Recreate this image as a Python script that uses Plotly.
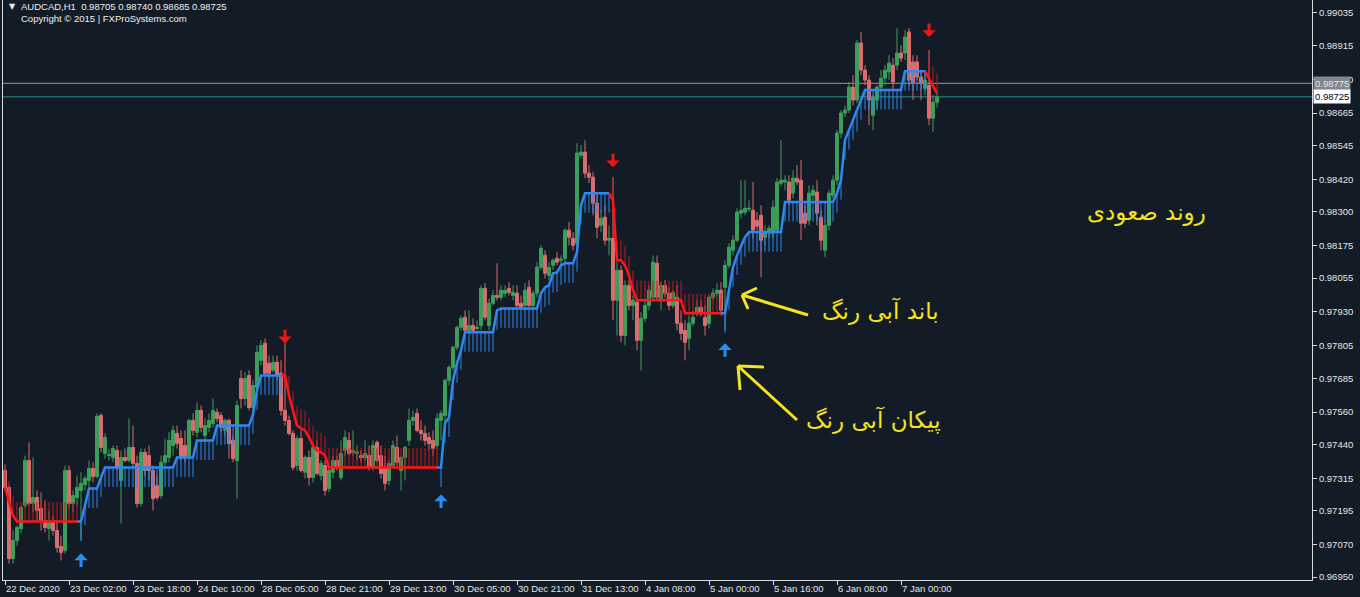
import plotly.graph_objects as go

# ---------------- data ----------------
symbol_line = "AUDCAD,H1  0.98705 0.98740 0.98685 0.98725"
copyright_line = "Copyright \u00a9 2015 | FXProSystems.com"

tick_bars = [0, 16, 32, 48, 64, 80, 96, 112, 128, 144, 160, 176, 192, 208, 224]
tick_labels = ["22 Dec 2020", "23 Dec 02:00", "23 Dec 18:00", "24 Dec 10:00", "28 Dec 05:00",
               "28 Dec 21:00", "29 Dec 13:00", "30 Dec 05:00", "30 Dec 21:00", "31 Dec 13:00",
               "4 Jan 08:00", "5 Jan 00:00", "5 Jan 16:00", "6 Jan 08:00", "7 Jan 00:00"]
price_ticks = [0.99035, 0.98915, 0.98790, 0.98665, 0.98545, 0.98420, 0.98300, 0.98175, 0.98055,
               0.97930, 0.97805, 0.97685, 0.97560, 0.97440, 0.97315, 0.97195, 0.97070, 0.96950]

opens = [
 0.97344,0.97281,0.97018,0.97085,0.97129,0.97214,0.97381,0.97222,0.97244,0.97203,
 0.97159,0.97129,0.97152,0.97122,0.97063,0.97048,0.97344,0.97222,0.97244,0.97270,
 0.97292,0.97307,0.97351,0.97322,0.97547,0.97407,0.97399,0.97392,0.97418,0.97307,
 0.97392,0.97381,0.97429,0.97370,0.97222,0.97411,0.97399,0.97344,0.97288,0.97251,
 0.97374,0.97392,0.97436,0.97481,0.97462,0.97436,0.97399,0.97529,0.97485,0.97566,
 0.97473,0.97503,0.97518,0.97559,0.97547,0.97492,0.97529,0.97455,0.97381,0.97684,
 0.97610,0.97695,0.97577,0.97651,0.97751,0.97814,0.97740,0.97714,0.97744,0.97703,
 0.97566,0.97529,0.97481,0.97362,0.97462,0.97337,0.97392,0.97318,0.97429,0.97325,
 0.97362,0.97277,0.97337,0.97381,0.97318,0.97418,0.97455,0.97411,0.97407,0.97399,
 0.97392,0.97399,0.97355,0.97448,0.97399,0.97355,0.97307,0.97362,0.97429,0.97344,
 0.97392,0.97455,0.97529,0.97555,0.97492,0.97481,0.97466,0.97455,0.97436,0.97529,
 0.97547,0.97677,0.97725,0.97799,0.97873,0.97910,0.97862,0.97880,0.97869,0.97880,
 0.98017,0.97880,0.97962,0.97991,0.97984,0.97999,0.98017,0.97991,0.97999,0.97962,
 0.97954,0.98021,0.97954,0.97999,0.98095,0.98139,0.98065,0.98102,0.98128,0.98121,
 0.98128,0.98232,0.98202,0.98184,0.98509,0.98521,0.98443,0.98428,0.98332,0.98250,
 0.98280,0.98195,0.98202,0.97973,0.98084,0.97843,0.98028,0.97954,0.97966,0.97825,
 0.97906,0.97954,0.97984,0.98110,0.97973,0.98028,0.97999,0.97954,0.97984,0.97888,
 0.97862,0.97832,0.97888,0.97925,0.97947,0.97910,0.97888,0.97984,0.97999,0.98010,
 0.98021,0.98102,0.98158,0.98195,0.98295,0.98299,0.98310,0.98306,0.98269,0.98287,
 0.98206,0.98221,0.98221,0.98232,0.98406,0.98410,0.98410,0.98369,0.98424,0.98417,
 0.98295,0.98269,0.98361,0.98373,0.98280,0.98158,0.98250,0.98361,0.98417,0.98591,
 0.98665,0.98676,0.98761,0.98713,0.98924,0.98824,0.98787,0.98657,0.98713,0.98761,
 0.98794,0.98817,0.98842,0.98842,0.98887,0.98887,0.98965,0.98854,0.98854,0.98798,
 0.98757,0.98768,0.98646,0.98705]
highs = [
 0.97366,0.97288,0.97122,0.97140,0.97214,0.97399,0.97448,0.97392,0.97270,0.97263,
 0.97233,0.97196,0.97177,0.97159,0.97103,0.97362,0.97362,0.97270,0.97325,0.97337,
 0.97325,0.97381,0.97374,0.97555,0.97555,0.97481,0.97425,0.97436,0.97436,0.97418,
 0.97425,0.97536,0.97510,0.97399,0.97425,0.97425,0.97436,0.97362,0.97325,0.97399,
 0.97462,0.97485,0.97510,0.97510,0.97492,0.97492,0.97536,0.97555,0.97596,0.97584,
 0.97536,0.97555,0.97610,0.97573,0.97559,0.97536,0.97536,0.97473,0.97603,0.97714,
 0.97707,0.97714,0.97677,0.97806,0.97825,0.97832,0.97769,0.97769,0.97769,0.97751,
 0.97818,0.97547,0.97492,0.97473,0.97492,0.97399,0.97418,0.97436,0.97455,0.97381,
 0.97381,0.97362,0.97399,0.97399,0.97455,0.97492,0.97485,0.97492,0.97436,0.97418,
 0.97455,0.97436,0.97455,0.97455,0.97436,0.97399,0.97381,0.97455,0.97473,0.97399,
 0.97436,0.97573,0.97566,0.97573,0.97529,0.97510,0.97485,0.97492,0.97555,0.97566,
 0.97684,0.97732,0.97806,0.97880,0.97917,0.97936,0.97936,0.97906,0.97899,0.98028,
 0.98036,0.97980,0.98010,0.98110,0.98028,0.98028,0.98040,0.98028,0.98028,0.97991,
 0.98036,0.98047,0.98010,0.98114,0.98176,0.98158,0.98114,0.98128,0.98151,0.98139,
 0.98239,0.98262,0.98225,0.98554,0.98546,0.98565,0.98472,0.98447,0.98361,0.98306,
 0.98324,0.98250,0.98428,0.98114,0.98102,0.98047,0.98047,0.97991,0.97980,0.97929,
 0.97973,0.98028,0.98139,0.98139,0.98040,0.98047,0.98021,0.98010,0.98028,0.97936,
 0.97899,0.97917,0.97936,0.97973,0.97973,0.97954,0.97991,0.98017,0.98036,0.98040,
 0.98121,0.98184,0.98213,0.98313,0.98417,0.98417,0.98343,0.98410,0.98299,0.98324,
 0.98250,0.98250,0.98343,0.98424,0.98565,0.98435,0.98435,0.98454,0.98472,0.98491,
 0.98324,0.98398,0.98398,0.98417,0.98306,0.98269,0.98380,0.98435,0.98602,0.98676,
 0.98694,0.98780,0.98805,0.98935,0.98965,0.98842,0.98805,0.98731,0.98768,0.98824,
 0.98842,0.98879,0.98868,0.98979,0.98916,0.98972,0.98979,0.98879,0.98879,0.98824,
 0.98824,0.98898,0.98731,0.98740]
lows = [
 0.97270,0.97000,0.97000,0.97066,0.97111,0.97207,0.97214,0.97189,0.97159,0.97122,
 0.97115,0.97085,0.97103,0.97041,0.97011,0.97037,0.97207,0.97189,0.97214,0.97085,
 0.97270,0.97281,0.97300,0.97314,0.97411,0.97388,0.97381,0.97374,0.97344,0.97148,
 0.97374,0.97374,0.97351,0.97207,0.97211,0.97325,0.97307,0.97196,0.97233,0.97240,
 0.97362,0.97374,0.97399,0.97425,0.97381,0.97374,0.97388,0.97473,0.97466,0.97485,
 0.97455,0.97485,0.97503,0.97522,0.97485,0.97473,0.97388,0.97374,0.97240,0.97573,
 0.97584,0.97566,0.97559,0.97640,0.97732,0.97692,0.97684,0.97707,0.97677,0.97547,
 0.97510,0.97473,0.97344,0.97344,0.97337,0.97314,0.97288,0.97300,0.97325,0.97307,
 0.97251,0.97263,0.97314,0.97344,0.97307,0.97399,0.97399,0.97399,0.97381,0.97374,
 0.97381,0.97344,0.97344,0.97374,0.97314,0.97270,0.97288,0.97351,0.97362,0.97270,
 0.97307,0.97436,0.97510,0.97485,0.97455,0.97436,0.97418,0.97399,0.97425,0.97455,
 0.97510,0.97658,0.97714,0.97788,0.97862,0.97855,0.97851,0.97855,0.97862,0.97862,
 0.97899,0.97862,0.97954,0.97973,0.97973,0.97984,0.97991,0.97973,0.97947,0.97936,
 0.97936,0.97947,0.97936,0.97984,0.98084,0.98054,0.98047,0.98084,0.98102,0.98102,
 0.98114,0.98176,0.98158,0.98165,0.98498,0.98424,0.98406,0.98287,0.98202,0.98225,
 0.98176,0.98139,0.97899,0.97843,0.97818,0.97806,0.97936,0.97899,0.97788,0.97714,
 0.97892,0.97936,0.97973,0.97973,0.97936,0.97984,0.97936,0.97943,0.97862,0.97825,
 0.97751,0.97788,0.97877,0.97914,0.97914,0.97843,0.97869,0.97973,0.97988,0.97917,
 0.97862,0.98091,0.98139,0.98188,0.98276,0.98287,0.98299,0.98202,0.98232,0.98058,
 0.98176,0.98202,0.98202,0.98225,0.98395,0.98380,0.98324,0.98350,0.98398,0.98195,
 0.98239,0.98250,0.98343,0.98250,0.98158,0.98132,0.98232,0.98350,0.98398,0.98572,
 0.98650,0.98665,0.98694,0.98702,0.98805,0.98768,0.98620,0.98602,0.98676,0.98743,
 0.98768,0.98787,0.98750,0.98824,0.98854,0.98861,0.98768,0.98713,0.98787,0.98713,
 0.98731,0.98620,0.98595,0.98685]
closes = [
 0.97281,0.97018,0.97085,0.97133,0.97207,0.97381,0.97222,0.97244,0.97196,0.97159,
 0.97133,0.97152,0.97122,0.97059,0.97041,0.97344,0.97222,0.97251,0.97281,0.97296,
 0.97314,0.97351,0.97322,0.97544,0.97429,0.97466,0.97403,0.97425,0.97355,0.97392,
 0.97381,0.97429,0.97370,0.97222,0.97411,0.97344,0.97344,0.97240,0.97244,0.97374,
 0.97399,0.97455,0.97492,0.97444,0.97392,0.97392,0.97529,0.97492,0.97566,0.97503,
 0.97510,0.97529,0.97566,0.97536,0.97503,0.97529,0.97444,0.97388,0.97584,0.97610,
 0.97684,0.97577,0.97658,0.97781,0.97806,0.97703,0.97703,0.97744,0.97695,0.97566,
 0.97529,0.97481,0.97355,0.97462,0.97344,0.97392,0.97318,0.97429,0.97333,0.97370,
 0.97270,0.97344,0.97381,0.97355,0.97407,0.97466,0.97407,0.97418,0.97411,0.97392,
 0.97407,0.97355,0.97436,0.97381,0.97333,0.97296,0.97370,0.97436,0.97374,0.97392,
 0.97429,0.97529,0.97540,0.97492,0.97481,0.97455,0.97444,0.97425,0.97536,0.97555,
 0.97677,0.97725,0.97799,0.97873,0.97906,0.97862,0.97880,0.97862,0.97873,0.98017,
 0.97910,0.97962,0.97991,0.97984,0.98010,0.98010,0.98002,0.98002,0.97954,0.97947,
 0.98010,0.97954,0.97999,0.98095,0.98165,0.98073,0.98095,0.98121,0.98114,0.98125,
 0.98232,0.98206,0.98176,0.98517,0.98521,0.98443,0.98428,0.98332,0.98243,0.98276,
 0.98195,0.98202,0.97973,0.98084,0.97843,0.98028,0.97954,0.97973,0.97825,0.97906,
 0.97954,0.98010,0.98114,0.97984,0.98028,0.97999,0.97954,0.98002,0.97888,0.97851,
 0.97818,0.97888,0.97910,0.97947,0.97925,0.97880,0.97984,0.97999,0.98010,0.97936,
 0.98102,0.98169,0.98195,0.98299,0.98306,0.98313,0.98313,0.98232,0.98247,0.98195,
 0.98225,0.98239,0.98317,0.98410,0.98417,0.98417,0.98343,0.98424,0.98410,0.98258,
 0.98258,0.98369,0.98380,0.98295,0.98195,0.98250,0.98369,0.98417,0.98591,0.98665,
 0.98676,0.98761,0.98713,0.98924,0.98824,0.98787,0.98713,0.98724,0.98761,0.98794,
 0.98824,0.98850,0.98780,0.98887,0.98868,0.98946,0.98787,0.98776,0.98798,0.98776,
 0.98787,0.98646,0.98705,0.98725]

# trend band of the indicator (one value per bar)
band = [
 0.97281,0.97233,0.97177,0.97155,0.97155,0.97155,0.97155,0.97155,0.97155,0.97155,
 0.97155,0.97155,0.97155,0.97155,0.97155,0.97155,0.97155,0.97155,0.97155,0.97155,
 0.97214,0.97277,0.97277,0.97277,0.97318,0.97355,0.97355,0.97355,0.97355,0.97355,
 0.97355,0.97355,0.97355,0.97355,0.97355,0.97355,0.97355,0.97355,0.97355,0.97355,
 0.97355,0.97355,0.97355,0.97392,0.97392,0.97392,0.97392,0.97392,0.97455,0.97455,
 0.97455,0.97455,0.97455,0.97510,0.97510,0.97510,0.97510,0.97510,0.97510,0.97510,
 0.97510,0.97510,0.97551,0.97640,0.97695,0.97695,0.97695,0.97695,0.97695,0.97695,
 0.97695,0.97621,0.97566,0.97510,0.97499,0.97492,0.97466,0.97436,0.97418,0.97411,
 0.97399,0.97355,0.97355,0.97355,0.97355,0.97355,0.97355,0.97355,0.97355,0.97355,
 0.97355,0.97355,0.97355,0.97355,0.97355,0.97355,0.97355,0.97355,0.97355,0.97355,
 0.97355,0.97355,0.97355,0.97355,0.97355,0.97355,0.97355,0.97355,0.97355,0.97355,
 0.97518,0.97540,0.97677,0.97740,0.97788,0.97855,0.97855,0.97855,0.97855,0.97855,
 0.97855,0.97855,0.97855,0.97936,0.97943,0.97943,0.97943,0.97943,0.97943,0.97943,
 0.97943,0.97943,0.97943,0.97943,0.97999,0.98021,0.98028,0.98073,0.98076,0.98102,
 0.98110,0.98110,0.98110,0.98151,0.98324,0.98369,0.98369,0.98369,0.98369,0.98369,
 0.98369,0.98369,0.98343,0.98121,0.98121,0.98102,0.98065,0.98010,0.97973,0.97973,
 0.97973,0.97973,0.97973,0.97973,0.97973,0.97973,0.97973,0.97973,0.97973,0.97973,
 0.97925,0.97925,0.97925,0.97925,0.97925,0.97925,0.97925,0.97925,0.97925,0.97925,
 0.97925,0.98010,0.98095,0.98139,0.98176,0.98206,0.98225,0.98225,0.98225,0.98225,
 0.98225,0.98225,0.98225,0.98225,0.98225,0.98336,0.98336,0.98336,0.98336,0.98336,
 0.98336,0.98336,0.98336,0.98336,0.98336,0.98336,0.98336,0.98336,0.98369,0.98417,
 0.98565,0.98602,0.98639,0.98669,0.98713,0.98750,0.98750,0.98750,0.98750,0.98750,
 0.98750,0.98750,0.98750,0.98750,0.98750,0.98820,0.98820,0.98820,0.98820,0.98820,
 0.98820,0.98794,0.98765,0.98739]

# bars where the indicator switches direction (1 = up / blue, -1 = down / red)
switch_bars = [0, 19, 70, 109, 152, 180, 231]
switch_dirs = [-1, 1, -1, 1, -1, 1, -1]

# signal arrows
up_arrow_bars = [19, 109, 180]
up_arrow_prices = [0.97037, 0.97255, 0.97814]
down_arrow_bars = [70, 152, 231]
down_arrow_prices = [0.97814, 0.98465, 0.98946]

ask_price = 0.98775
bid_price = 0.98725

txt_trend = "روند صعودی"
txt_band = "باند آبی رنگ"
txt_arrow = "پیکان آبی رنگ"

# ---------------- styles ----------------
BG = "#131b26"
GREEN = "#3c9e5b"
RED_C = "#d76f6e"
BLUE = "#2f88f0"
RED = "#ff1616"
HATCH_RED = "#c8191c"
YELLOW = "#f4e41c"
AXIS = "#d9dcdf"
FONT = "Liberation Sans"
HATCH_LEN = 0.00072

n = len(closes)
xs = list(range(n))

trend = []
k = 0
for i in range(n):
    while k + 1 < len(switch_bars) and i >= switch_bars[k + 1]:
        k += 1
    trend.append(switch_dirs[k])

fig = go.Figure()

fig.add_trace(go.Candlestick(
    x=xs, open=opens, high=highs, low=lows, close=closes,
    increasing=dict(line=dict(color=GREEN, width=1), fillcolor=GREEN),
    decreasing=dict(line=dict(color=RED_C, width=1), fillcolor=RED_C),
    whiskerwidth=0, hoverinfo="skip", showlegend=False))

# hatch lines
hx_u, hy_u, hx_d, hy_d = [], [], [], []
for i in range(n):
    if trend[i] == 1:
        hx_u += [i, i, None]
        hy_u += [band[i], band[i] - HATCH_LEN, None]
    else:
        hx_d += [i, i, None]
        hy_d += [band[i], band[i] + HATCH_LEN, None]
fig.add_trace(go.Scatter(x=hx_u, y=hy_u, mode="lines", line=dict(color=BLUE, width=1),
                         hoverinfo="skip", showlegend=False))
fig.add_trace(go.Scatter(x=hx_d, y=hy_d, mode="lines", line=dict(color=HATCH_RED, width=1),
                         hoverinfo="skip", showlegend=False))

# band lines
up_y, dn_y = [], []
for i in range(n):
    nxt = trend[i + 1] if i + 1 < n else trend[i]
    up_y.append(band[i] if (trend[i] == 1 or nxt == 1) else None)
    dn_y.append(band[i] if (trend[i] == -1 or nxt == -1) else None)
fig.add_trace(go.Scatter(x=xs, y=up_y, mode="lines", line=dict(color=BLUE, width=2.5),
                         connectgaps=False, hoverinfo="skip", showlegend=False))
fig.add_trace(go.Scatter(x=xs, y=dn_y, mode="lines", line=dict(color=RED, width=2.5),
                         connectgaps=False, hoverinfo="skip", showlegend=False))

annotations = []
for b, p in zip(up_arrow_bars, up_arrow_prices):
    annotations.append(dict(x=b, y=p, xref="x", yref="y", text="", showarrow=True,
                            ax=0, ay=15, arrowhead=1, arrowsize=0.75, arrowwidth=3,
                            arrowcolor="#2b8cf3"))
for b, p in zip(down_arrow_bars, down_arrow_prices):
    annotations.append(dict(x=b, y=p, xref="x", yref="y", text="", showarrow=True,
                            ax=0, ay=-15, arrowhead=1, arrowsize=0.75, arrowwidth=3,
                            arrowcolor="#f01414"))

# price labels on the right axis
annotations.append(dict(x=1, y=ask_price, xref="paper", yref="y", xanchor="left", xshift=1,
                        text="0.98775", showarrow=False, bgcolor="#7f878f",
                        font=dict(family=FONT, size=9.5, color="#e4e6e8"), borderpad=1))
annotations.append(dict(x=1, y=bid_price, xref="paper", yref="y", xanchor="left", xshift=1,
                        text="0.98725", showarrow=False, bgcolor="#ffffff",
                        font=dict(family=FONT, size=9.5, color="#000000"), borderpad=1))

# plot-area geometry helpers for decorations (pixel -> paper)
L, T, W, H = 3, 0, 1309, 580
def px(x):
    return (x - L) / W
def py(y):
    return 1 - (y - T) / H

annotations.append(dict(x=px(7), y=py(6.5), xref="paper", yref="paper", xanchor="left",
                        yanchor="middle", text="\u25bc", showarrow=False,
                        font=dict(family="DejaVu Sans", size=8, color="#e8e8e8")))
annotations.append(dict(x=px(19), y=py(6.5), xref="paper", yref="paper", xanchor="left",
                        yanchor="middle", text=symbol_line, showarrow=False,
                        font=dict(family=FONT, size=9.5, color="#f0f0f0")))
annotations.append(dict(x=px(19), y=py(18.5), xref="paper", yref="paper", xanchor="left",
                        yanchor="middle", text=copyright_line, showarrow=False,
                        font=dict(family=FONT, size=9.5, color="#f0f0f0")))

for t, cx, cy in [(txt_trend, 1146, 212), (txt_band, 880, 311), (txt_arrow, 873, 420)]:
    annotations.append(dict(x=px(cx), y=py(cy), xref="paper", yref="paper", xanchor="center",
                            yanchor="middle", text=t, showarrow=False,
                            font=dict(family="DejaVu Sans", size=23, color=YELLOW)))

shapes = [
    dict(type="line", xref="paper", yref="y", x0=0, x1=1, y0=ask_price, y1=ask_price,
         line=dict(color="#8d959c", width=1), layer="below"),
    dict(type="line", xref="paper", yref="y", x0=0, x1=1, y0=bid_price, y1=bid_price,
         line=dict(color="#2b9090", width=1), layer="below"),
]
yellow_arrows = [
    [(808, 315), (742, 295), (757, 288), (748, 309)],
    [(797, 420), (738, 366), (764, 367), (740, 390)],
]
for tail, tip, h1, h2 in yellow_arrows:
    for a, b in [(tail, tip), (tip, h1), (tip, h2)]:
        shapes.append(dict(type="line", xref="paper", yref="paper",
                           x0=px(a[0]), y0=py(a[1]), x1=px(b[0]), y1=py(b[1]),
                           line=dict(color=YELLOW, width=3)))

fig.update_layout(
    width=1360, height=597,
    margin=dict(l=L, r=1360 - L - W, t=T, b=597 - T - H, autoexpand=False),
    paper_bgcolor=BG, plot_bgcolor=BG,
    showlegend=False, hovermode=False,
    boxgap=0.2, boxgroupgap=0.05,
    annotations=annotations, shapes=shapes,
    xaxis=dict(range=[-0.5, 326.75], tickmode="array", tickvals=tick_bars, ticktext=tick_labels,
               showgrid=False, zeroline=False, showline=True, linecolor=AXIS, linewidth=1,
               ticks="outside", ticklen=4, tickcolor=AXIS, ticklabelposition="outside right",
               tickangle=0, automargin=False,
               tickfont=dict(family=FONT, size=9.5, color="#e6e6e6"),
               rangeslider=dict(visible=False), fixedrange=True),
    yaxis=dict(range=[0.96939, 0.99083], side="right", tickmode="array", tickvals=price_ticks,
               ticktext=["%.5f" % v for v in price_ticks], automargin=False,
               showgrid=False, zeroline=False, showline=True, mirror=True, linecolor=AXIS,
               linewidth=1, ticks="outside", ticklen=4, tickcolor=AXIS,
               tickfont=dict(family=FONT, size=9.5, color="#e6e6e6"), fixedrange=True),
)

fig.write_html("out.html", config={"displayModeBar": False},
               post_script="document.body.style.margin='0';document.body.style.background='#131b26';")
